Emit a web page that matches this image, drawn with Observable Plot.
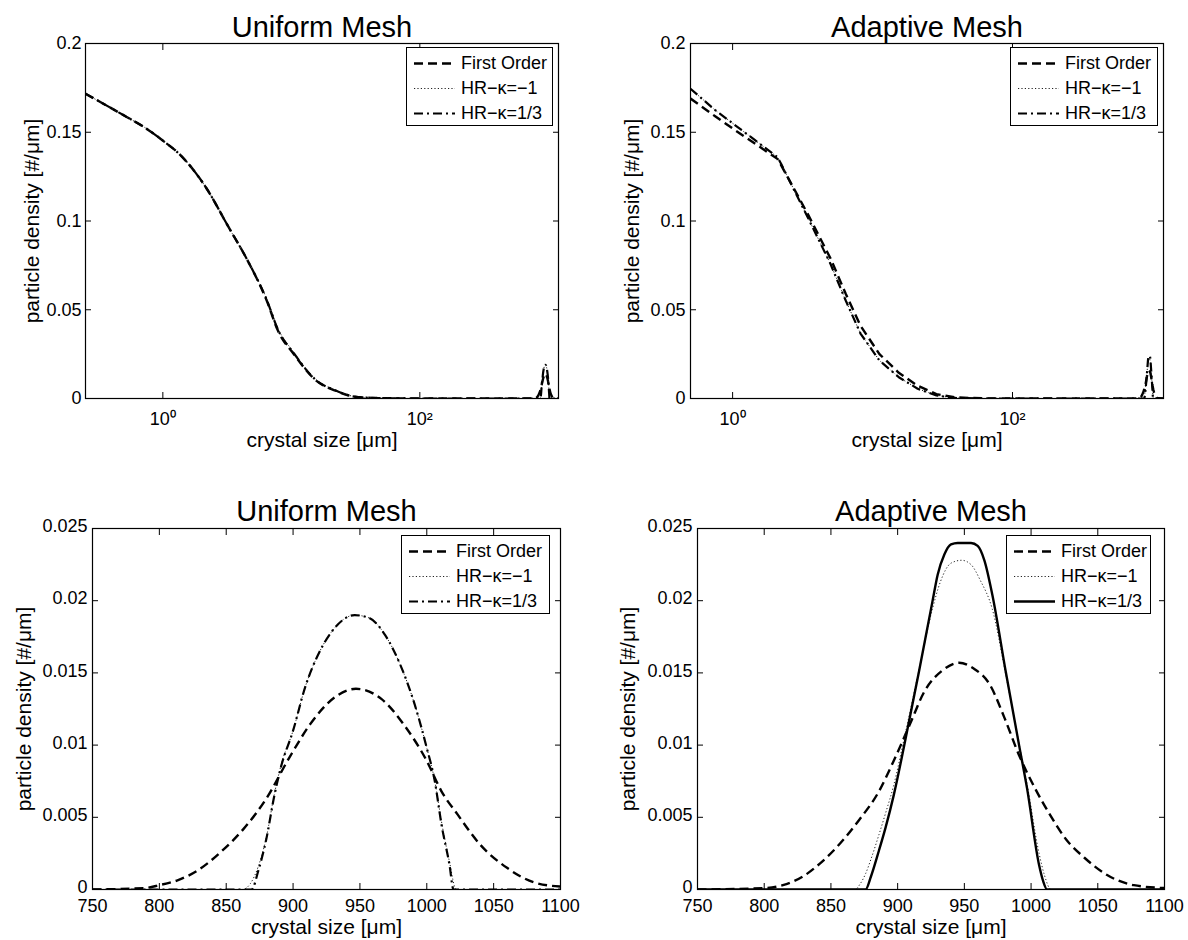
<!DOCTYPE html>
<html>
<head>
<meta charset="utf-8">
<script src="https://cdn.jsdelivr.net/npm/d3@7"></script>
<script src="https://cdn.jsdelivr.net/npm/@observablehq/plot@0.6"></script>
<style>
  html, body { margin: 0; padding: 0; background: #fff; }
  #wrap { position: relative; width: 1188px; height: 940px; background: #fff; overflow: hidden;
          font-family: "Liberation Sans", Arial, Helvetica, sans-serif; color: #000; }
  .panel { position: absolute; }
  .legend { position: absolute; box-sizing: border-box; border: 1.2px solid #000; background: #fff;
            padding-top: 3px; font-size: 18px; }
  .legend .row { height: 25px; display: flex; align-items: center; white-space: nowrap; }
  .legend svg { display: block; flex: none; }
  .legend span { margin-left: 6px; }
</style>
</head>
<body>
<div id="wrap"></div>
<script>
// ---------------- data ----------------
const seriesNames = ["First Order", "HR\u2212\u03BA=\u22121", "HR\u2212\u03BA=1/3"];
const panelTitles = ["Uniform Mesh", "Adaptive Mesh", "Uniform Mesh", "Adaptive Mesh"];
const xLabel = "crystal size [\u03BCm]";
const yLabel = "particle density [#/\u03BCm]";

const yTicksTop = [0, 0.05, 0.1, 0.15, 0.2];
const yTicksBottom = [0, 0.005, 0.01, 0.015, 0.02, 0.025];
const xTicksTop = [1, 100];
const xTicksBottom = [750, 800, 850, 900, 950, 1000, 1050, 1100];

// Uniform mesh, nucleated (small) crystals
const uniSmallSize = [0.25, 0.5, 0.75, 1.0, 1.34, 2.16, 3.25, 4.57, 6.43, 7.89, 10.4, 15.6, 21.9, 30.8, 49.5, 100, 300, 700];
const uniSmallFO   = [0.1717, 0.1594, 0.1519, 0.1453, 0.1378, 0.119, 0.0965, 0.0777, 0.0552, 0.0380, 0.0252, 0.0101, 0.0045, 0.0011, 0.0002, 0, 0, 0];
const uniSmallHRm1 = [0.1717, 0.1594, 0.1519, 0.1453, 0.1378, 0.119, 0.0965, 0.0777, 0.0560, 0.0392, 0.0262, 0.0106, 0.0047, 0.0012, 0.0002, 0, 0, 0];
const uniSmallHR13 = [0.1717, 0.1594, 0.1519, 0.1453, 0.1378, 0.119, 0.0965, 0.0777, 0.0556, 0.0386, 0.0257, 0.0103, 0.0046, 0.0011, 0.0002, 0, 0, 0];

// Adaptive mesh, nucleated (small) crystals
const adaSmallSize = [0.5, 0.75, 1.05, 2.09, 2.22, 3.44, 5.0, 6.43, 8.2, 11.2, 15.4, 21, 28.6, 39, 60, 200, 700];
const adaSmallFO   = [0.169, 0.159, 0.151, 0.135, 0.1315, 0.104, 0.079, 0.059, 0.041, 0.025, 0.0145, 0.0072, 0.0025, 0.0006, 0.0001, 0, 0];
const adaSmallHRm1 = [0.1745, 0.1625, 0.1538, 0.136, 0.1322, 0.1021, 0.0759, 0.0552, 0.0366, 0.0214, 0.012, 0.0055, 0.0017, 0.0003, 0, 0, 0];
const adaSmallHR13 = [0.1745, 0.1625, 0.1538, 0.136, 0.1322, 0.1021, 0.0759, 0.0552, 0.0366, 0.0214, 0.012, 0.0055, 0.0017, 0.0003, 0, 0, 0];

// Uniform mesh, seed crystals (750-1100 um)
const uniSeedSizeFO = [750, 789, 800, 814, 829, 846, 863, 880, 897, 914, 931, 947, 966, 983, 1000, 1011, 1023, 1040, 1060, 1080, 1100];
const uniSeedFO     = [0, 0.0001, 0.0003, 0.00065, 0.00134, 0.0026, 0.0042, 0.0063, 0.0091, 0.0116, 0.0133, 0.0139, 0.0132, 0.0114, 0.0089, 0.0068, 0.0052, 0.0031, 0.0015, 0.0005, 0.0002];
const uniSeedSizeHRm1 = [750, 862, 868, 874, 880, 886, 891, 900, 909, 920, 931, 946, 957, 969, 980, 991, 1000, 1006, 1011, 1017, 1022, 1100];
const uniSeedHRm1     = [0, 0, 0.0004, 0.0016, 0.0036, 0.0066, 0.0086, 0.0110, 0.0140, 0.0165, 0.0181, 0.0190, 0.0188, 0.0176, 0.0156, 0.0128, 0.0098, 0.0075, 0.0047, 0.0019, 0, 0];
const uniSeedSizeHR13 = [750, 869, 874, 880, 886, 891, 900, 909, 920, 931, 946, 957, 969, 980, 991, 1000, 1006, 1011, 1017, 1020, 1100];
const uniSeedHR13     = [0, 0, 0.0013, 0.0035, 0.0065, 0.0085, 0.0110, 0.0140, 0.0165, 0.0181, 0.0190, 0.0188, 0.0176, 0.0156, 0.0128, 0.0098, 0.0075, 0.0045, 0.0017, 0, 0];

// Adaptive mesh, seed crystals (750-1100 um)
const adaSeedSizeFO = [750, 800, 814, 829, 843, 857, 871, 886, 897, 909, 920, 934, 946, 957, 969, 980, 991, 1003, 1014, 1026, 1040, 1057, 1077, 1100];
const adaSeedFO     = [0, 0.0001, 0.0003, 0.0009, 0.0019, 0.0032, 0.0048, 0.0068, 0.0089, 0.0114, 0.0137, 0.0152, 0.0157, 0.0153, 0.0142, 0.0119, 0.0093, 0.0070, 0.0052, 0.0035, 0.0022, 0.0010, 0.0003, 0.0001];
const adaSeedSizeHRm1 = [750, 868, 872, 876, 880, 886, 891, 897, 905, 916, 926, 932, 940, 948, 955, 962, 971, 981, 991, 997, 1006, 1010, 1015, 1100];
const adaSeedHRm1     = [0, 0, 0.0004, 0.0011, 0.0021, 0.0038, 0.0053, 0.0072, 0.0105, 0.0152, 0.0194, 0.0213, 0.0226, 0.0228, 0.0225, 0.0214, 0.0194, 0.0149, 0.0101, 0.0073, 0.0025, 0.0010, 0, 0];
const adaSeedSizeHR13 = [750, 876, 880, 886, 891, 897, 905, 916, 926, 930, 935, 940, 945, 955, 960, 965, 971, 981, 991, 997, 1006, 1009, 1012, 1100];
const adaSeedHR13     = [0, 0, 0.0009, 0.0027, 0.0043, 0.0065, 0.0100, 0.0151, 0.0199, 0.0218, 0.0232, 0.0239, 0.0240, 0.0240, 0.0238, 0.0228, 0.0204, 0.0151, 0.0100, 0.0070, 0.0017, 0.0006, 0, 0];

const topEndSize = [1200];
const topEndValue = [0];

// ---------------- helpers ----------------
const pts = (xs, ys) => xs.map((x, i) => ({x, y: ys[i]}));
const sup = "\u2070\u00B9\u00B2\u00B3\u2074\u2075\u2076\u2077\u2078\u2079";
const powFmt = d => "10" + String(Math.round(Math.log10(d))).split("").map(c => sup[+c]).join("");
const numFmt = d => d3.format("~g")(d);

const FONT = "'Liberation Sans', Arial, Helvetica, sans-serif";
const styles = {
  fo:    {stroke: "#000", strokeWidth: 2.4, strokeDasharray: "9,5"},
  dot:   {stroke: "#222", strokeWidth: 1, strokeDasharray: "1.2,2.2"},
  dd:    {stroke: "#000", strokeWidth: 2.2, strokeDasharray: "9,4,2,4"},
  solid: {stroke: "#000", strokeWidth: 2.4}
};

const wrap = document.getElementById("wrap");

function makePanel(cfg) {
  const W = 594, H = 470;
  const marks = [];
  cfg.series.forEach(s => {
    marks.push(Plot.line(s.data, {x: "x", y: "y", ...s.style, curve: cfg.curve, clip: true,
      strokeLinecap: "butt", strokeLinejoin: "round"}));
  });
  marks.push(
    Plot.frame({stroke: "#000", strokeWidth: 1.2}),
    // inward tick marks on all four sides
    Plot.axisY({anchor: "left", ticks: cfg.yTicks, tickFormat: () => "", tickSize: -6, label: null}),
    Plot.axisY({anchor: "right", ticks: cfg.yTicks, tickFormat: () => "", tickSize: -6, label: null}),
    Plot.axisX({anchor: "bottom", ticks: cfg.xTicks, tickFormat: () => "", tickSize: -6, label: null}),
    Plot.axisX({anchor: "top", ticks: cfg.xTicks, tickFormat: () => "", tickSize: -6, label: null}),
    // tick labels
    Plot.axisY({anchor: "left", ticks: cfg.yTicks, tickFormat: numFmt, tickSize: 0,
      tickPadding: cfg.yPad, fontSize: 18, label: null, dy: cfg.yDy}),
    Plot.axisX({anchor: "bottom", ticks: cfg.xTicks, tickFormat: cfg.xFmt, tickSize: 0,
      tickPadding: cfg.xPad, fontSize: 18, label: null}),
    Plot.text([cfg.title], {text: d => d, frameAnchor: "top", dy: cfg.titleDy, fontSize: 29, lineAnchor: "middle"}),
    Plot.text([xLabel], {text: d => d, frameAnchor: "bottom", dy: cfg.xLabelDy, fontSize: 21, lineAnchor: "middle"}),
    Plot.text([yLabel], {text: d => d, frameAnchor: "left", textAnchor: "middle", dx: cfg.yLabelDx, rotate: -90, fontSize: 21, lineAnchor: "middle"})
  );
  const chart = Plot.plot({
    width: W, height: H,
    marginLeft: cfg.m[0], marginRight: cfg.m[1], marginTop: cfg.m[2], marginBottom: cfg.m[3],
    style: {fontFamily: FONT, fontSize: "18px", color: "#000", background: "transparent", overflow: "visible"},
    x: cfg.x, y: {domain: cfg.yDomain},
    marks
  });
  const div = document.createElement("div");
  div.className = "panel";
  div.style.left = cfg.left + "px";
  div.style.top = cfg.top + "px";
  div.appendChild(chart);
  wrap.appendChild(div);

  // legend
  const lg = document.createElement("div");
  lg.className = "legend";
  lg.style.left = cfg.legend[0] + "px";
  lg.style.top = cfg.legend[1] + "px";
  lg.style.width = cfg.legend[2] + "px";
  lg.style.height = "79px";
  cfg.series.forEach(s => {
    const row = document.createElement("div");
    row.className = "row";
    const st = s.style;
    row.innerHTML = `<svg width="48" height="25"><line x1="7" x2="48" y1="12.5" y2="12.5" stroke="${st.stroke}" stroke-width="${st.strokeWidth}" ${st.strokeDasharray ? `stroke-dasharray="${st.strokeDasharray}"` : ""}/></svg><span>${s.name}</span>`;
    lg.appendChild(row);
  });
  wrap.appendChild(lg);
}

// ---------------- panels ----------------
makePanel({
  left: 0, top: 0, m: [85, 36, 43, 72], title: panelTitles[0],
  x: {type: "log", domain: [0.25, 1200]}, xTicks: xTicksTop, xFmt: powFmt, xPad: 14,
  yDomain: [0, 0.2], yTicks: yTicksTop, yPad: 4, yDy: 0,
  titleDy: -16, xLabelDy: 42, yLabelDx: -53, curve: "monotone-x",
  legend: [406, 47, 147],
  series: [
    {name: seriesNames[0], style: styles.fo,  data: pts([...uniSmallSize, ...uniSeedSizeFO, ...topEndSize], [...uniSmallFO, ...uniSeedFO, ...topEndValue])},
    {name: seriesNames[1], style: styles.dot, data: pts([...uniSmallSize, ...uniSeedSizeHRm1, ...topEndSize], [...uniSmallHRm1, ...uniSeedHRm1, ...topEndValue])},
    {name: seriesNames[2], style: styles.dd,  data: pts([...uniSmallSize, ...uniSeedSizeHR13, ...topEndSize], [...uniSmallHR13, ...uniSeedHR13, ...topEndValue])}
  ]
});

makePanel({
  left: 594, top: 0, m: [96, 25, 43, 72], title: panelTitles[1],
  x: {type: "log", domain: [0.5, 1200]}, xTicks: xTicksTop, xFmt: powFmt, xPad: 14,
  yDomain: [0, 0.2], yTicks: yTicksTop, yPad: 5, yDy: 0,
  titleDy: -16, xLabelDy: 42, yLabelDx: -58, curve: "linear",
  legend: [1010, 47, 148],
  series: [
    {name: seriesNames[0], style: styles.fo,  data: pts([...adaSmallSize, ...adaSeedSizeFO, ...topEndSize], [...adaSmallFO, ...adaSeedFO, ...topEndValue])},
    {name: seriesNames[1], style: styles.dot, data: pts([...adaSmallSize, ...adaSeedSizeHRm1, ...topEndSize], [...adaSmallHRm1, ...adaSeedHRm1, ...topEndValue])},
    {name: seriesNames[2], style: styles.dd,  data: pts([...adaSmallSize, ...adaSeedSizeHR13, ...topEndSize], [...adaSmallHR13, ...adaSeedHR13, ...topEndValue])}
  ]
});

makePanel({
  left: 0, top: 470, m: [92, 34, 58, 51], title: panelTitles[2],
  x: {domain: [750, 1100]}, xTicks: xTicksBottom, xFmt: numFmt, xPad: 10,
  yDomain: [0, 0.025], yTicks: yTicksBottom, yPad: 5, yDy: -2,
  titleDy: -17, xLabelDy: 38, yLabelDx: -68, curve: "monotone-x",
  legend: [401, 535, 149],
  series: [
    {name: seriesNames[0], style: styles.fo,  data: pts(uniSeedSizeFO, uniSeedFO)},
    {name: seriesNames[1], style: styles.dot, data: pts(uniSeedSizeHRm1, uniSeedHRm1)},
    {name: seriesNames[2], style: styles.dd,  data: pts(uniSeedSizeHR13, uniSeedHR13)}
  ]
});

makePanel({
  left: 594, top: 470, m: [103, 24, 58, 51], title: panelTitles[3],
  x: {domain: [750, 1100]}, xTicks: xTicksBottom, xFmt: numFmt, xPad: 10,
  yDomain: [0, 0.025], yTicks: yTicksBottom, yPad: 5, yDy: -2,
  titleDy: -17, xLabelDy: 38, yLabelDx: -69, curve: "monotone-x",
  legend: [1006, 535, 145],
  series: [
    {name: seriesNames[0], style: styles.fo,    data: pts(adaSeedSizeFO, adaSeedFO)},
    {name: seriesNames[1], style: styles.dot,   data: pts(adaSeedSizeHRm1, adaSeedHRm1)},
    {name: seriesNames[2], style: styles.solid, data: pts(adaSeedSizeHR13, adaSeedHR13)}
  ]
});
</script>
</body>
</html>
